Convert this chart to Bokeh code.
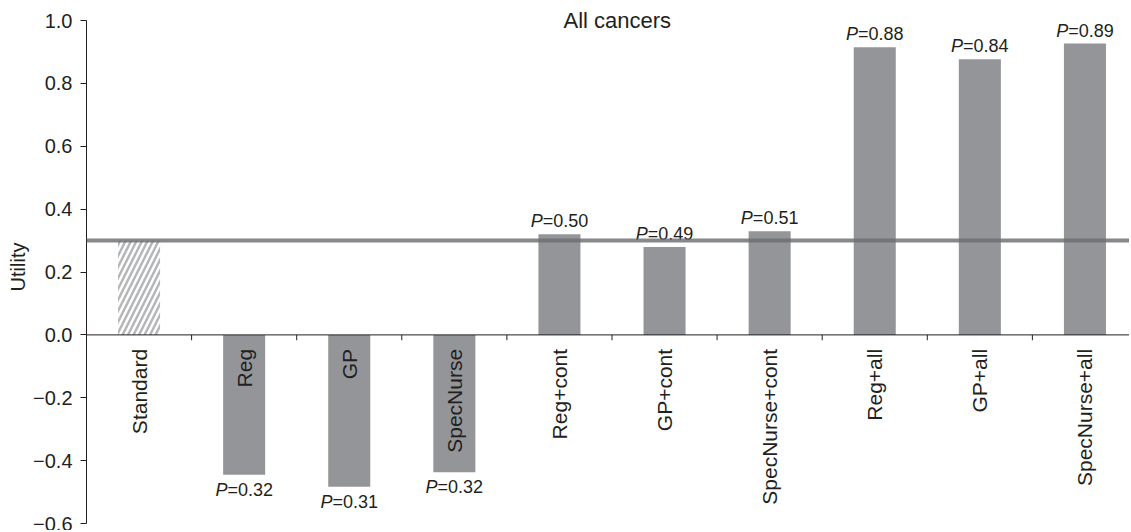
from math import pi
from bokeh.plotting import figure
from bokeh.models import Range1d, FixedTicker, Span, ColumnDataSource, Label, Title
from bokeh.core.properties import value
from bokeh.embed import file_html
from bokeh.resources import INLINE

# ---- data ----
categories = ["Standard", "Reg", "GP", "SpecNurse", "Reg+cont", "GP+cont",
              "SpecNurse+cont", "Reg+all", "GP+all", "SpecNurse+all"]
utility = [0.30, -0.445, -0.483, -0.437, 0.32, 0.28, 0.33, 0.915, 0.877, 0.927]
p_values = ["", "0.32", "0.31", "0.32", "0.50", "0.49", "0.51", "0.88", "0.84", "0.89"]
standard_utility = 0.30
y_ticks = [-0.6, -0.4, -0.2, 0.0, 0.2, 0.4, 0.6, 0.8, 1.0]
y_tick_labels = ["\u22120.6", "\u22120.4", "\u22120.2", "0.0", "0.2", "0.4", "0.6", "0.8", "1.0"]
title_text = "All cancers"
y_label = "Utility"

FONT = "Liberation Sans"
TXT = "#231f20"
BAR = "#939598"

n = len(categories)
centers = [i + 0.5 for i in range(n)]

p = figure(width=1129, height=530, output_backend="svg", toolbar_location=None,
           x_range=Range1d(0, 9.924), y_range=Range1d(-0.6, 1.032),
           x_axis_location=None, min_border_left=86, min_border_right=0,
           min_border_top=10, min_border_bottom=7)
p.outline_line_color = None
p.xgrid.visible = False
p.ygrid.visible = False
p.background_fill_color = "white"
p.border_fill_color = "white"

# y axis
ya = p.yaxis[0]
ya.bounds = (y_ticks[0], y_ticks[-1])
ya.ticker = FixedTicker(ticks=y_ticks)
ya.major_label_overrides = {t: l for t, l in zip(y_ticks, y_tick_labels)}
ya.minor_tick_line_color = None
ya.major_tick_in = 0
ya.major_tick_out = 6
ya.major_label_standoff = 8
ya.axis_line_color = TXT
ya.major_tick_line_color = TXT
ya.major_label_text_font = FONT
ya.major_label_text_font_size = "20px"
ya.major_label_text_color = TXT

# y axis title
p.add_layout(Title(text=y_label, align="center", text_font=FONT,
                   text_font_style="normal", text_font_size="20px",
                   text_color=TXT, standoff=4), "left")

# bars
std_src = ColumnDataSource(dict(x=centers[:1], top=utility[:1]))
p.vbar(x="x", top="top", bottom=0, width=0.4, source=std_src,
       fill_color="white", line_color=None,
       hatch_pattern="/", hatch_color="#b5b6b8", hatch_weight=2.5, hatch_scale=11)
bar_src = ColumnDataSource(dict(x=centers[1:], top=utility[1:]))
p.vbar(x="x", top="top", bottom=0, width=0.4, source=bar_src,
       fill_color=BAR, line_color=None)

# x axis line at zero with ticks between categories
p.add_layout(Span(location=0, dimension="width", line_color=TXT, line_width=1))
bounds = list(range(1, n))
p.segment(x0=bounds, y0=[0] * len(bounds), x1=bounds, y1=[-0.017] * len(bounds),
          line_color=TXT, line_width=1)

# category labels (rotated)
p.text(x=centers, y=[0] * n, text=categories, angle=pi / 2,
       text_align="right", text_baseline="middle", y_offset=14,
       text_font=value(FONT), text_font_size="21px", text_color=TXT)

# reference line (standard)
p.add_layout(Span(location=standard_utility, dimension="width",
                  line_color="#6d6e71", line_alpha=0.82, line_width=4))

# P-value labels
PFS = 18
split = -0.9315 * PFS
pos = [i for i in range(n) if p_values[i] and utility[i] > 0]
neg = [i for i in range(n) if p_values[i] and utility[i] < 0]
for idx, base, off in ((pos, "bottom", -3), (neg, "top", 5)):
    src = ColumnDataSource(dict(x=[centers[i] for i in idx],
                                y=[utility[i] for i in idx],
                                p=["P"] * len(idx),
                                v=["=" + p_values[i] for i in idx]))
    p.text(x="x", y="y", text="p", source=src, text_align="right",
           text_baseline=base, x_offset=split, y_offset=off,
           text_font=value(FONT), text_font_style="italic",
           text_font_size=f"{PFS}px", text_color=TXT)
    p.text(x="x", y="y", text="v", source=src, text_align="left",
           text_baseline=base, x_offset=split, y_offset=off,
           text_font=value(FONT), text_font_size=f"{PFS}px", text_color=TXT)

# title inside plot
p.add_layout(Label(x=5.05, y=1.0, text=title_text, text_align="center",
                   text_baseline="middle", text_font=FONT,
                   text_font_size="22px", text_color=TXT))

open("out.html", "w").write(file_html(p, INLINE))
